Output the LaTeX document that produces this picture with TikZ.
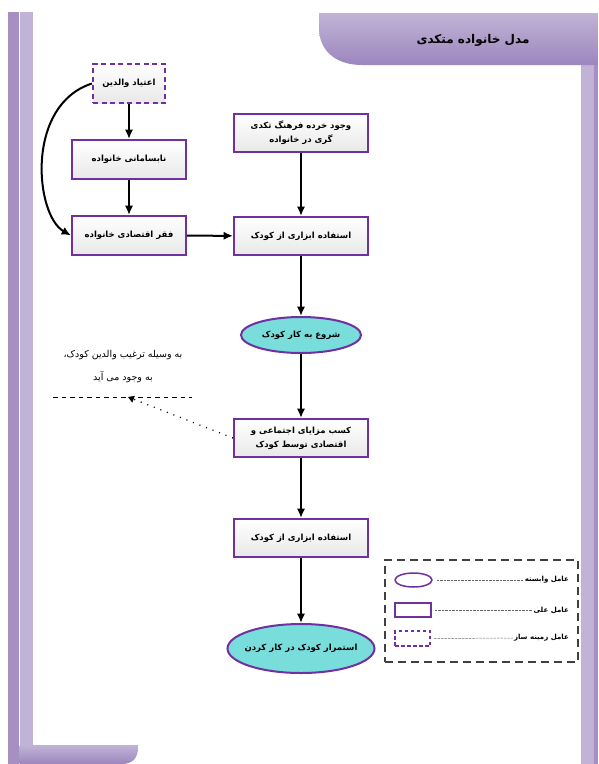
\documentclass[tikz,border=0pt]{standalone}
\usepackage{fontspec}
\newfontfamily\fa[Script=Arabic]{DejaVu Sans}
\TeXXeTstate=1
\usepackage{tikz}
\usetikzlibrary{arrows.meta,positioning,shapes.geometric}
\definecolor{framepurple}{HTML}{7030A0}
\definecolor{stripdark}{HTML}{A690C2}
\definecolor{striplight}{HTML}{C0B3D7}
\definecolor{tabdark}{HTML}{9C86BD}
\definecolor{ovalfill}{HTML}{78DDDB}
\definecolor{legendgray}{HTML}{404040}
\newcommand{\fatxt}[1]{{\fa\beginR #1\endR}}
\tikzset{
  >={Latex[length=3.3mm,width=2.9mm]},
  block/.style={draw=framepurple, line width=2pt, rectangle, top color=white, bottom color=gray!18,
    minimum height=38pt, minimum width=134pt, align=center, inner sep=2pt,
    font=\fontsize{8.5}{14}\selectfont\bfseries},
  smallblock/.style={block, minimum width=114pt, minimum height=39pt},
  ctxblock/.style={smallblock, dash pattern=on 5pt off 3.5pt, minimum width=72pt},
  oval/.style={ellipse, draw=framepurple, line width=2pt, fill=ovalfill, inner sep=0pt,
    minimum width=120pt, minimum height=36pt, font=\fontsize{8.5}{14}\selectfont\bfseries},
  conn/.style={->, line width=2pt},
  legtxt/.style={anchor=east, inner sep=1pt, font=\fontsize{7}{9}\selectfont\bfseries},
  legline/.style={gray!80!black, line width=0.5pt, dash pattern=on 2.5pt off 1pt},
}

\begin{document}
\begin{tikzpicture}[x=1pt, y=-1pt]
  \useasboundingbox (0,0) rectangle (598,764);
  \fill[white] (0,0) rectangle (598,764);

  % page frame
  \fill[stripdark] (8,12) rectangle (19,764);
  \fill[striplight] (19.6,12) rectangle (33,745);
  \fill[striplight] (581,65) rectangle (593.5,764);
  \fill[stripdark] (594,65) rectangle (598,764);
  \shade[top color=striplight, bottom color=tabdark]
    (319,13) -- (598,13) -- (598,65) -- (362,65) .. controls (335,65) and (319,50) .. (319,28) -- cycle;
  \shade[top color=striplight, bottom color=tabdark]
    (19.6,745) -- (138,745) -- (138,748) .. controls (138,758) and (132,764) .. (122,764) -- (19.6,764) -- cycle;
  \node[font=\fontsize{12}{14}\selectfont\bfseries] (title) at (473,40) {\fatxt{مدل خانواده متکدی}};

  % left column
  \node[ctxblock] (addict) at (129,83.5) {\fatxt{اعتیاد والدین}};
  \node[smallblock] (disorder) at (129,159.5) {\fatxt{نابسامانی خانواده}};
  \node[smallblock] (poverty) at (129,235.5) {\fatxt{فقر اقتصادی خانواده}};

  % main column
  \node[block] (culture) at (301,133) {\fatxt{وجود خرده فرهنگ  تکدی}\\\fatxt{گری در خانواده}};
  \node[block] (use1) at (301,236) {\fatxt{استفاده ابزاری از کودک}};
  \node[oval] (start) at (301,335) {\fatxt{شروع به کار کودک}};
  \node[block] (gain) at (301,438) {\fatxt{کسب مزایای اجتماعی و}\\\fatxt{اقتصادی توسط کودک}};
  \node[block] (use2) at (301,538) {\fatxt{استفاده ابزاری از کودک}};
  \node[oval, inner xsep=-5pt, minimum width=147pt, minimum height=49pt] (persist) at (301,648.5) {\fatxt{استمرار کودک در کار کردن}};

  \draw[conn] (addict) -- (disorder);
  \draw[conn] (disorder) -- (poverty);
  \draw[conn] (addict.west) .. controls (25,105) and (35,215) .. (poverty.west);
  \draw[conn] (poverty) -- (use1);
  \draw[conn] (culture) -- (use1);
  \draw[conn] (use1) -- (start);
  \draw[conn] (start) -- (gain);
  \draw[conn] (gain) -- (use2);
  \draw[conn] (use2) -- (persist);

  % note
  \node[align=center, font=\fontsize{9.5}{23}\selectfont] (note) at (123,367)
    {\fatxt{به وسیله ترغیب والدین کودک،}\\\fatxt{به وجود می آید}};
  \coordinate (noteL) at (53,397);
  \coordinate (noteR) at (192,397);
  \coordinate (notetip) at (128,397);
  \draw[line width=1pt, dash pattern=on 4.5pt off 4pt] (noteL) -- (noteR);
  \draw[line width=1.3pt, dash pattern=on 1pt off 6pt, -{Triangle[length=6pt,width=7pt]}] (gain.west) -- (notetip);

  % legend
  \node[draw=legendgray, line width=2pt, dash pattern=on 8pt off 5pt, minimum width=193pt,
    minimum height=102pt] (legend) at (481,611) {};
  \node[ellipse, draw=framepurple, line width=1.5pt, minimum width=37pt, minimum height=14pt, inner sep=0pt] (legoval) at (413.5,580) {};
  \node[draw=framepurple, line width=1.5pt, minimum width=36pt, minimum height=14pt, inner sep=0pt] (legrect) at (413,610) {};
  \node[draw=framepurple, line width=1.5pt, dash pattern=on 3.5pt off 2.5pt, minimum width=35pt, minimum height=15pt, inner sep=0pt] (legdash) at (412.5,638.5) {};
  \node[legtxt] (legdep) at (570,580) {\fatxt{عامل وابسته}};
  \node[legtxt] (legcause) at (570,610) {\fatxt{عامل علی}};
  \node[legtxt] (legctx) at (570,638) {\fatxt{عامل زمینه ساز}};
  \draw[legline] (legoval.east) ++(4,0) -- (legdep.west);
  \draw[legline] (legrect.east) ++(3,0) -- (legcause.west);
  \draw[legline] (legdash.east) ++(3,0) -- (legctx.west);
\end{tikzpicture}
\end{document}
